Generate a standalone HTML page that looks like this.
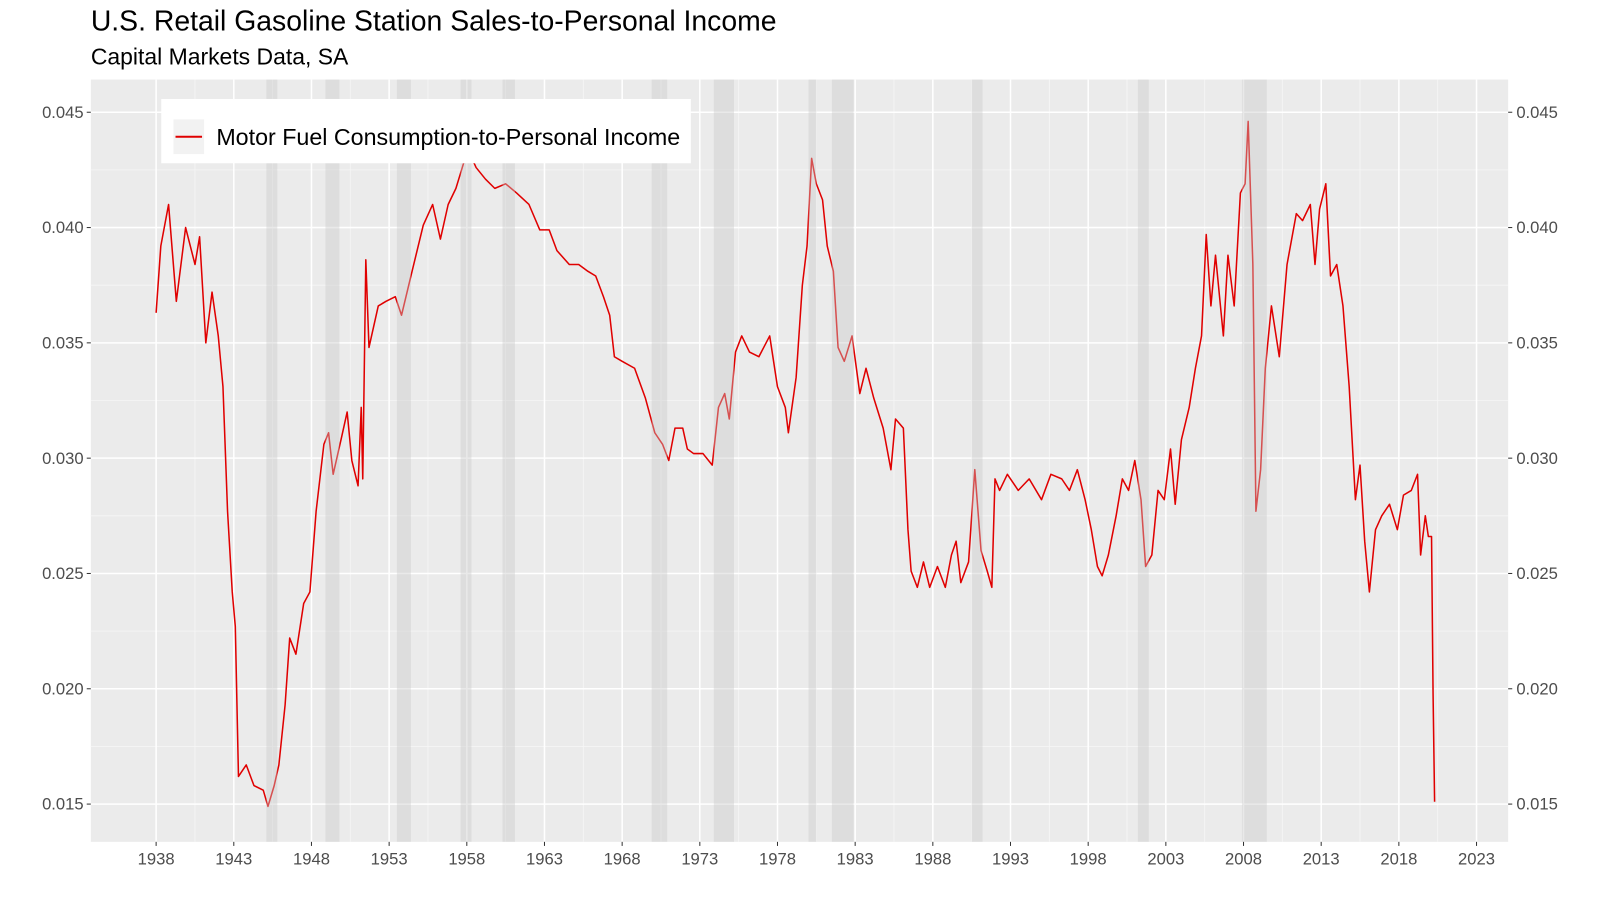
<!DOCTYPE html>
<html><head><meta charset="utf-8">
<style>
body{margin:0;background:#fff;font-family:"Liberation Sans",Arial,sans-serif;}
svg{display:block}
</style></head>
<body>
<svg id="chart" width="1600" height="905" viewBox="0 0 1568 886.9" xmlns="http://www.w3.org/2000/svg">
<text x="89" y="30" font-size="27.8" fill="#000">U.S. Retail Gasoline Station Sales-to-Personal Income</text>
<text x="89" y="63" font-size="22.5" fill="#000">Capital Markets Data, SA</text>
<rect x="89" y="78" width="1389" height="747" fill="#ebebeb"/>
<g id="grid"></g>
<g id="series"></g>
<g id="bands"></g>
<g id="axes"></g>
<g>
<rect x="158" y="97" width="519" height="63" fill="#fff"/>
<rect x="170" y="117" width="30" height="34" fill="#f2f2f2"/>
<line x1="172" y1="134" x2="198" y2="134" stroke="#e00000" stroke-width="2"/>
<text x="212" y="142" font-size="22.8" fill="#000">Motor Fuel Consumption-to-Personal Income</text>
</g>
</svg>
<script>
const years=[1938.0,1938.3,1938.8,1939.3,1939.9,1940.5,1940.8,1941.2,1941.6,1942.0,1942.3,1942.6,1942.9,1943.1,1943.3,1943.8,1944.3,1944.9,1945.2,1945.6,1945.9,1946.3,1946.6,1947.0,1947.5,1947.9,1948.3,1948.8,1949.1,1949.4,1949.9,1950.3,1950.6,1951.0,1951.2,1951.3,1951.5,1951.7,1952.3,1952.8,1953.4,1953.8,1954.4,1955.2,1955.8,1956.3,1956.8,1957.3,1957.8,1958.2,1958.6,1959.2,1959.8,1960.5,1961.2,1962.0,1962.7,1963.3,1963.8,1964.6,1965.2,1965.8,1966.3,1966.8,1967.2,1967.5,1968.0,1968.8,1969.5,1970.1,1970.6,1971.0,1971.4,1971.9,1972.2,1972.6,1973.2,1973.8,1974.2,1974.6,1974.9,1975.3,1975.7,1976.2,1976.8,1977.5,1978.0,1978.5,1978.7,1979.2,1979.6,1979.9,1980.2,1980.5,1980.9,1981.2,1981.6,1981.9,1982.3,1982.8,1983.3,1983.7,1984.2,1984.8,1985.3,1985.6,1986.1,1986.4,1986.6,1987.0,1987.4,1987.8,1988.3,1988.8,1989.2,1989.5,1989.8,1990.3,1990.7,1991.1,1991.5,1991.8,1992.0,1992.3,1992.8,1993.5,1994.2,1995.0,1995.6,1996.3,1996.8,1997.3,1997.8,1998.2,1998.6,1998.9,1999.3,1999.8,2000.2,2000.6,2001.0,2001.4,2001.7,2002.1,2002.5,2002.9,2003.3,2003.6,2004.0,2004.5,2004.9,2005.3,2005.6,2005.9,2006.2,2006.7,2007.0,2007.4,2007.8,2008.1,2008.3,2008.6,2008.8,2009.1,2009.4,2009.8,2010.3,2010.8,2011.4,2011.8,2012.3,2012.6,2012.9,2013.3,2013.6,2014.0,2014.4,2014.8,2015.2,2015.5,2015.8,2016.1,2016.5,2016.9,2017.4,2017.9,2018.3,2018.8,2019.2,2019.4,2019.7,2019.9,2020.1,2020.2,2020.3];
const values=[0.0363,0.0392,0.0410,0.0368,0.0400,0.0384,0.0396,0.0350,0.0372,0.0353,0.0331,0.0277,0.0242,0.0227,0.0162,0.0167,0.0158,0.0156,0.0149,0.0158,0.0167,0.0193,0.0222,0.0215,0.0237,0.0242,0.0277,0.0306,0.0311,0.0293,0.0308,0.0320,0.0299,0.0288,0.0322,0.0291,0.0386,0.0348,0.0366,0.0368,0.0370,0.0362,0.0379,0.0401,0.0410,0.0395,0.0410,0.0417,0.0428,0.0432,0.0426,0.0421,0.0417,0.0419,0.0415,0.0410,0.0399,0.0399,0.0390,0.0384,0.0384,0.0381,0.0379,0.0370,0.0362,0.0344,0.0342,0.0339,0.0326,0.0311,0.0306,0.0299,0.0313,0.0313,0.0304,0.0302,0.0302,0.0297,0.0322,0.0328,0.0317,0.0346,0.0353,0.0346,0.0344,0.0353,0.0331,0.0322,0.0311,0.0335,0.0375,0.0392,0.0430,0.0419,0.0412,0.0392,0.0381,0.0348,0.0342,0.0353,0.0328,0.0339,0.0326,0.0313,0.0295,0.0317,0.0313,0.0269,0.0251,0.0244,0.0255,0.0244,0.0253,0.0244,0.0258,0.0264,0.0246,0.0255,0.0295,0.0260,0.0251,0.0244,0.0291,0.0286,0.0293,0.0286,0.0291,0.0282,0.0293,0.0291,0.0286,0.0295,0.0282,0.0269,0.0253,0.0249,0.0258,0.0275,0.0291,0.0286,0.0299,0.0282,0.0253,0.0258,0.0286,0.0282,0.0304,0.0280,0.0308,0.0322,0.0339,0.0353,0.0397,0.0366,0.0388,0.0353,0.0388,0.0366,0.0415,0.0419,0.0446,0.0384,0.0277,0.0295,0.0339,0.0366,0.0344,0.0384,0.0406,0.0403,0.0410,0.0384,0.0408,0.0419,0.0379,0.0384,0.0366,0.0331,0.0282,0.0297,0.0264,0.0242,0.0269,0.0275,0.0280,0.0269,0.0284,0.0286,0.0293,0.0258,0.0275,0.0266,0.0266,0.0198,0.0151];
const recStart=[1945.1,1948.9,1953.5,1957.6,1960.3,1969.9,1973.9,1980.0,1981.5,1990.5,2001.2,2007.9];
const recEnd=[1945.8,1949.8,1954.4,1958.3,1961.1,1970.9,1975.2,1980.5,1982.9,1991.2,2001.9,2009.5];
const xTicks=[1938,1943,1948,1953,1958,1963,1968,1973,1978,1983,1988,1993,1998,2003,2008,2013,2018,2023];
const yTicks=[0.015,0.020,0.025,0.030,0.035,0.040,0.045];
const NS="http://www.w3.org/2000/svg";
const X0=89,X1=1478,Y0=78,Y1=825;
const sx=v=>153+(v-1938)*(1447-153)/85;
const sy=v=>110+(0.045-v)*113/0.005;
function mk(tag,attrs,parent){const e=document.createElementNS(NS,tag);for(const k in attrs)e.setAttribute(k,attrs[k]);parent.appendChild(e);return e;}
const grid=document.getElementById('grid'),axes=document.getElementById('axes');
for(let i=0;i<xTicks.length-1;i++){const x=sx(xTicks[i]+2.5);const l=mk('line',{x1:x,x2:x,y1:Y0,y2:Y1,stroke:'#f6f6f6','stroke-width':0.8},grid);

}
for(let i=0;i<yTicks.length+1;i++){const v=0.0125+i*0.005;const y=sy(v);if(y<Y0||y>Y1)continue;const l=mk('line',{x1:X0,x2:X1,y1:y,y2:y,stroke:'#f6f6f6','stroke-width':0.8},grid);

}
xTicks.forEach(t=>{const x=sx(t);const l=mk('line',{x1:x,x2:x,y1:Y0,y2:Y1,stroke:'#fff','stroke-width':1.5},grid);


mk('line',{x1:x,x2:x,y1:Y1,y2:Y1+4,stroke:'#333','stroke-width':1},axes);
const tx=mk('text',{x:x,y:847,'font-size':16.3,fill:'#4d4d4d','text-anchor':'middle'},axes);tx.textContent=t;

});
yTicks.forEach(t=>{const y=sy(t);const l=mk('line',{x1:X0,x2:X1,y1:y,y2:y,stroke:'#fff','stroke-width':1.5},grid);


mk('line',{x1:X0-4,x2:X0,y1:y,y2:y,stroke:'#333'},axes);
mk('line',{x1:X1,x2:X1+4,y1:y,y2:y,stroke:'#333'},axes);
const a=mk('text',{x:82,y:y+5.5,'font-size':16.3,fill:'#4d4d4d','text-anchor':'end'},axes);a.textContent=t.toFixed(3);


const b=mk('text',{x:1486,y:y+5.5,'font-size':16.3,fill:'#4d4d4d'},axes);b.textContent=t.toFixed(3);

});
const p=mk('path',{d:years.map((yr,i)=>(i?'L':'M')+sx(yr).toFixed(1)+','+sy(values[i]).toFixed(1)).join(''),fill:'none',stroke:'#e00000','stroke-width':1.5,'stroke-linejoin':'round'},document.getElementById('series'));


const bands=document.getElementById('bands');
recStart.forEach((s,i)=>{const r=mk('rect',{x:sx(s),y:Y0,width:sx(recEnd[i])-sx(s),height:Y1-Y0,fill:'rgb(200,200,200)','fill-opacity':0.4},bands);

});
</script>
</body></html>
